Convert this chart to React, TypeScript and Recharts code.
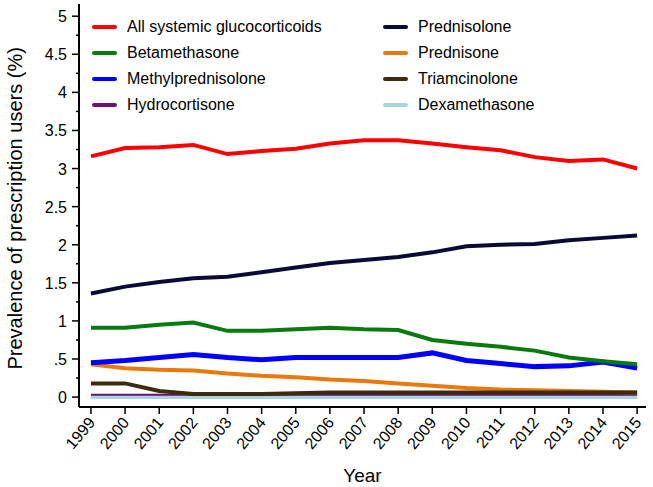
import { LineChart, Line, XAxis, YAxis } from "recharts";

const years = [1999, 2000, 2001, 2002, 2003, 2004, 2005, 2006, 2007, 2008, 2009, 2010, 2011, 2012, 2013, 2014, 2015];

const allSystemic = [3.16, 3.27, 3.28, 3.31, 3.19, 3.23, 3.26, 3.33, 3.37, 3.37, 3.33, 3.28, 3.24, 3.15, 3.1, 3.12, 3.0];
const prednisolone = [1.36, 1.45, 1.51, 1.56, 1.58, 1.64, 1.7, 1.76, 1.8, 1.84, 1.9, 1.98, 2.0, 2.01, 2.06, 2.09, 2.12];
const betamethasone = [0.91, 0.91, 0.95, 0.98, 0.87, 0.87, 0.89, 0.91, 0.89, 0.88, 0.75, 0.7, 0.66, 0.61, 0.52, 0.47, 0.43];
const prednisone = [0.43, 0.38, 0.36, 0.35, 0.31, 0.28, 0.26, 0.23, 0.21, 0.18, 0.15, 0.12, 0.1, 0.09, 0.08, 0.07, 0.06];
const methylprednisolone = [0.45, 0.48, 0.52, 0.56, 0.52, 0.49, 0.52, 0.52, 0.52, 0.52, 0.58, 0.48, 0.44, 0.4, 0.41, 0.46, 0.38];
const triamcinolone = [0.18, 0.18, 0.08, 0.04, 0.04, 0.04, 0.05, 0.06, 0.06, 0.06, 0.06, 0.06, 0.06, 0.06, 0.06, 0.06, 0.06];
const hydrocortisone = [0.03, 0.03, 0.03, 0.03, 0.03, 0.03, 0.03, 0.03, 0.03, 0.03, 0.03, 0.03, 0.03, 0.03, 0.03, 0.03, 0.03];
const dexamethasone = [0.0, 0.0, 0.0, 0.0, 0.0, 0.0, 0.0, 0.0, 0.0, 0.0, 0.0, 0.0, 0.0, 0.0, 0.0, 0.0, 0.0];

const yTicks = [0, 0.25, 0.5, 0.75, 1, 1.25, 1.5, 1.75, 2, 2.25, 2.5, 2.75, 3, 3.25, 3.5, 3.75, 4, 4.25, 4.5, 4.75, 5];

const series = [
  { key: "dex", name: "Dexamethasone", color: "#A6D6E4", width: 4, values: dexamethasone },
  { key: "hydro", name: "Hydrocortisone", color: "#6E0F72", width: 2, values: hydrocortisone },
  { key: "prednisone", name: "Prednisone", color: "#E8790E", width: 4, values: prednisone },
  { key: "triam", name: "Triamcinolone", color: "#3E2A0C", width: 4, values: triamcinolone },
  { key: "methyl", name: "Methylprednisolone", color: "#0000FF", width: 5, values: methylprednisolone },
  { key: "beta", name: "Betamethasone", color: "#087A0E", width: 4, values: betamethasone },
  { key: "prednisolone", name: "Prednisolone", color: "#0A0A36", width: 4, values: prednisolone },
  { key: "all", name: "All systemic glucocorticoids", color: "#FF0000", width: 4, values: allSystemic },
];

const legendOrder = [
  ["All systemic glucocorticoids", "Betamethasone", "Methylprednisolone", "Hydrocortisone"],
  ["Prednisolone", "Prednisone", "Triamcinolone", "Dexamethasone"],
];

const data = years.map((year, i) => {
  const row: Record<string, number> = { year };
  series.forEach((s) => {
    row[s.key] = s.values[i];
  });
  return row;
});

const font = "'Liberation Sans', Arial, sans-serif";
const xDomain = [1998.65, 2015.26];
const yDomain = [-0.13, 5.16];

const fmt = (v: number) => (v === 0 ? "0" : v < 1 ? String(v).replace(/^0/, "") : String(v));

const YTick = (props: any) => {
  const { x, y, payload } = props;
  const v = payload.value;
  const major = Math.abs(v * 2 - Math.round(v * 2)) < 1e-6;
  return (
    <g>
      <line x1={x} x2={x - (major ? 7 : 3)} y1={y} y2={y} stroke="#000" strokeWidth={1.5} />
      {major && (
        <text x={x - 12} y={y} dy={6} textAnchor="end" fontSize={16} fontFamily={font} fill="#000">
          {fmt(v)}
        </text>
      )}
    </g>
  );
};

const XTick = (props: any) => {
  const { x, y, payload } = props;
  return (
    <g>
      <line x1={x} x2={x} y1={y} y2={y + 7} stroke="#000" strokeWidth={1.5} />
      <text
        x={x + 5}
        y={y + 16}
        textAnchor="end"
        fontSize={16}
        fontFamily={font}
        fill="#000"
        transform={`rotate(-50, ${x + 5}, ${y + 16})`}
      >
        {payload.value}
      </text>
    </g>
  );
};

function ChartLegend() {
  return (
    <div
      style={{
        position: "absolute",
        left: 92,
        top: 14,
        display: "flex",
        fontFamily: font,
        fontSize: 16,
        color: "#000",
      }}
    >
      {legendOrder.map((col, ci) => (
        <div key={ci} style={{ width: ci === 0 ? 291 : 240 }}>
          {col.map((name) => {
            const s = series.find((t) => t.name === name)!;
            return (
              <div key={name} style={{ display: "flex", alignItems: "center", height: 26 }}>
                <div
                  style={{
                    width: 25,
                    height: 4,
                    borderRadius: 2,
                    background: s.color,
                    marginRight: 10,
                  }}
                />
                <span>{name}</span>
              </div>
            );
          })}
        </div>
      ))}
    </div>
  );
}

export default function App() {
  return (
    <div style={{ position: "absolute", left: 0, top: 0, width: 653, height: 487, background: "#fff" }}>
      <LineChart width={653} height={487} data={data} margin={{ top: 4, right: 7, left: 0, bottom: 0 }}>
        <XAxis
          dataKey="year"
          type="number"
          domain={xDomain}
          ticks={years}
          interval={0}
          height={80}
          tickSize={0}
          tickMargin={0}
          tickLine={false}
          axisLine={{ stroke: "#000", strokeWidth: 2 }}
          tick={<XTick />}
          label={{
            value: "Year",
            position: "insideBottom",
            offset: 5,
            fontSize: 19,
            fontFamily: font,
            fill: "#000",
          }}
        />
        <XAxis
          xAxisId="top"
          orientation="top"
          dataKey="year"
          type="number"
          domain={xDomain}
          height={0}
          tick={false}
          tickLine={false}
          axisLine={{ stroke: "#000", strokeWidth: 2 }}
        />
        <YAxis
          type="number"
          domain={yDomain}
          ticks={yTicks}
          interval={0}
          width={79}
          tickSize={0}
          tickMargin={0}
          tickLine={false}
          axisLine={{ stroke: "#000", strokeWidth: 2 }}
          tick={<YTick />}
          label={{
            value: "Prevalence of prescription users (%)",
            angle: -90,
            position: "insideLeft",
            offset: 15,
            dy: 164,
            fontSize: 20,
            fontFamily: font,
            fill: "#000",
          }}
        />
        <YAxis
          yAxisId="right"
          orientation="right"
          type="number"
          domain={yDomain}
          width={0}
          tick={false}
          tickLine={false}
          axisLine={{ stroke: "#000", strokeWidth: 2 }}
        />
        {series.map((s) => (
          <Line
            key={s.key}
            dataKey={s.key}
            name={s.name}
            type="linear"
            stroke={s.color}
            strokeWidth={s.width}
            dot={false}
            isAnimationActive={false}
          />
        ))}
      </LineChart>
      <ChartLegend />
    </div>
  );
}
